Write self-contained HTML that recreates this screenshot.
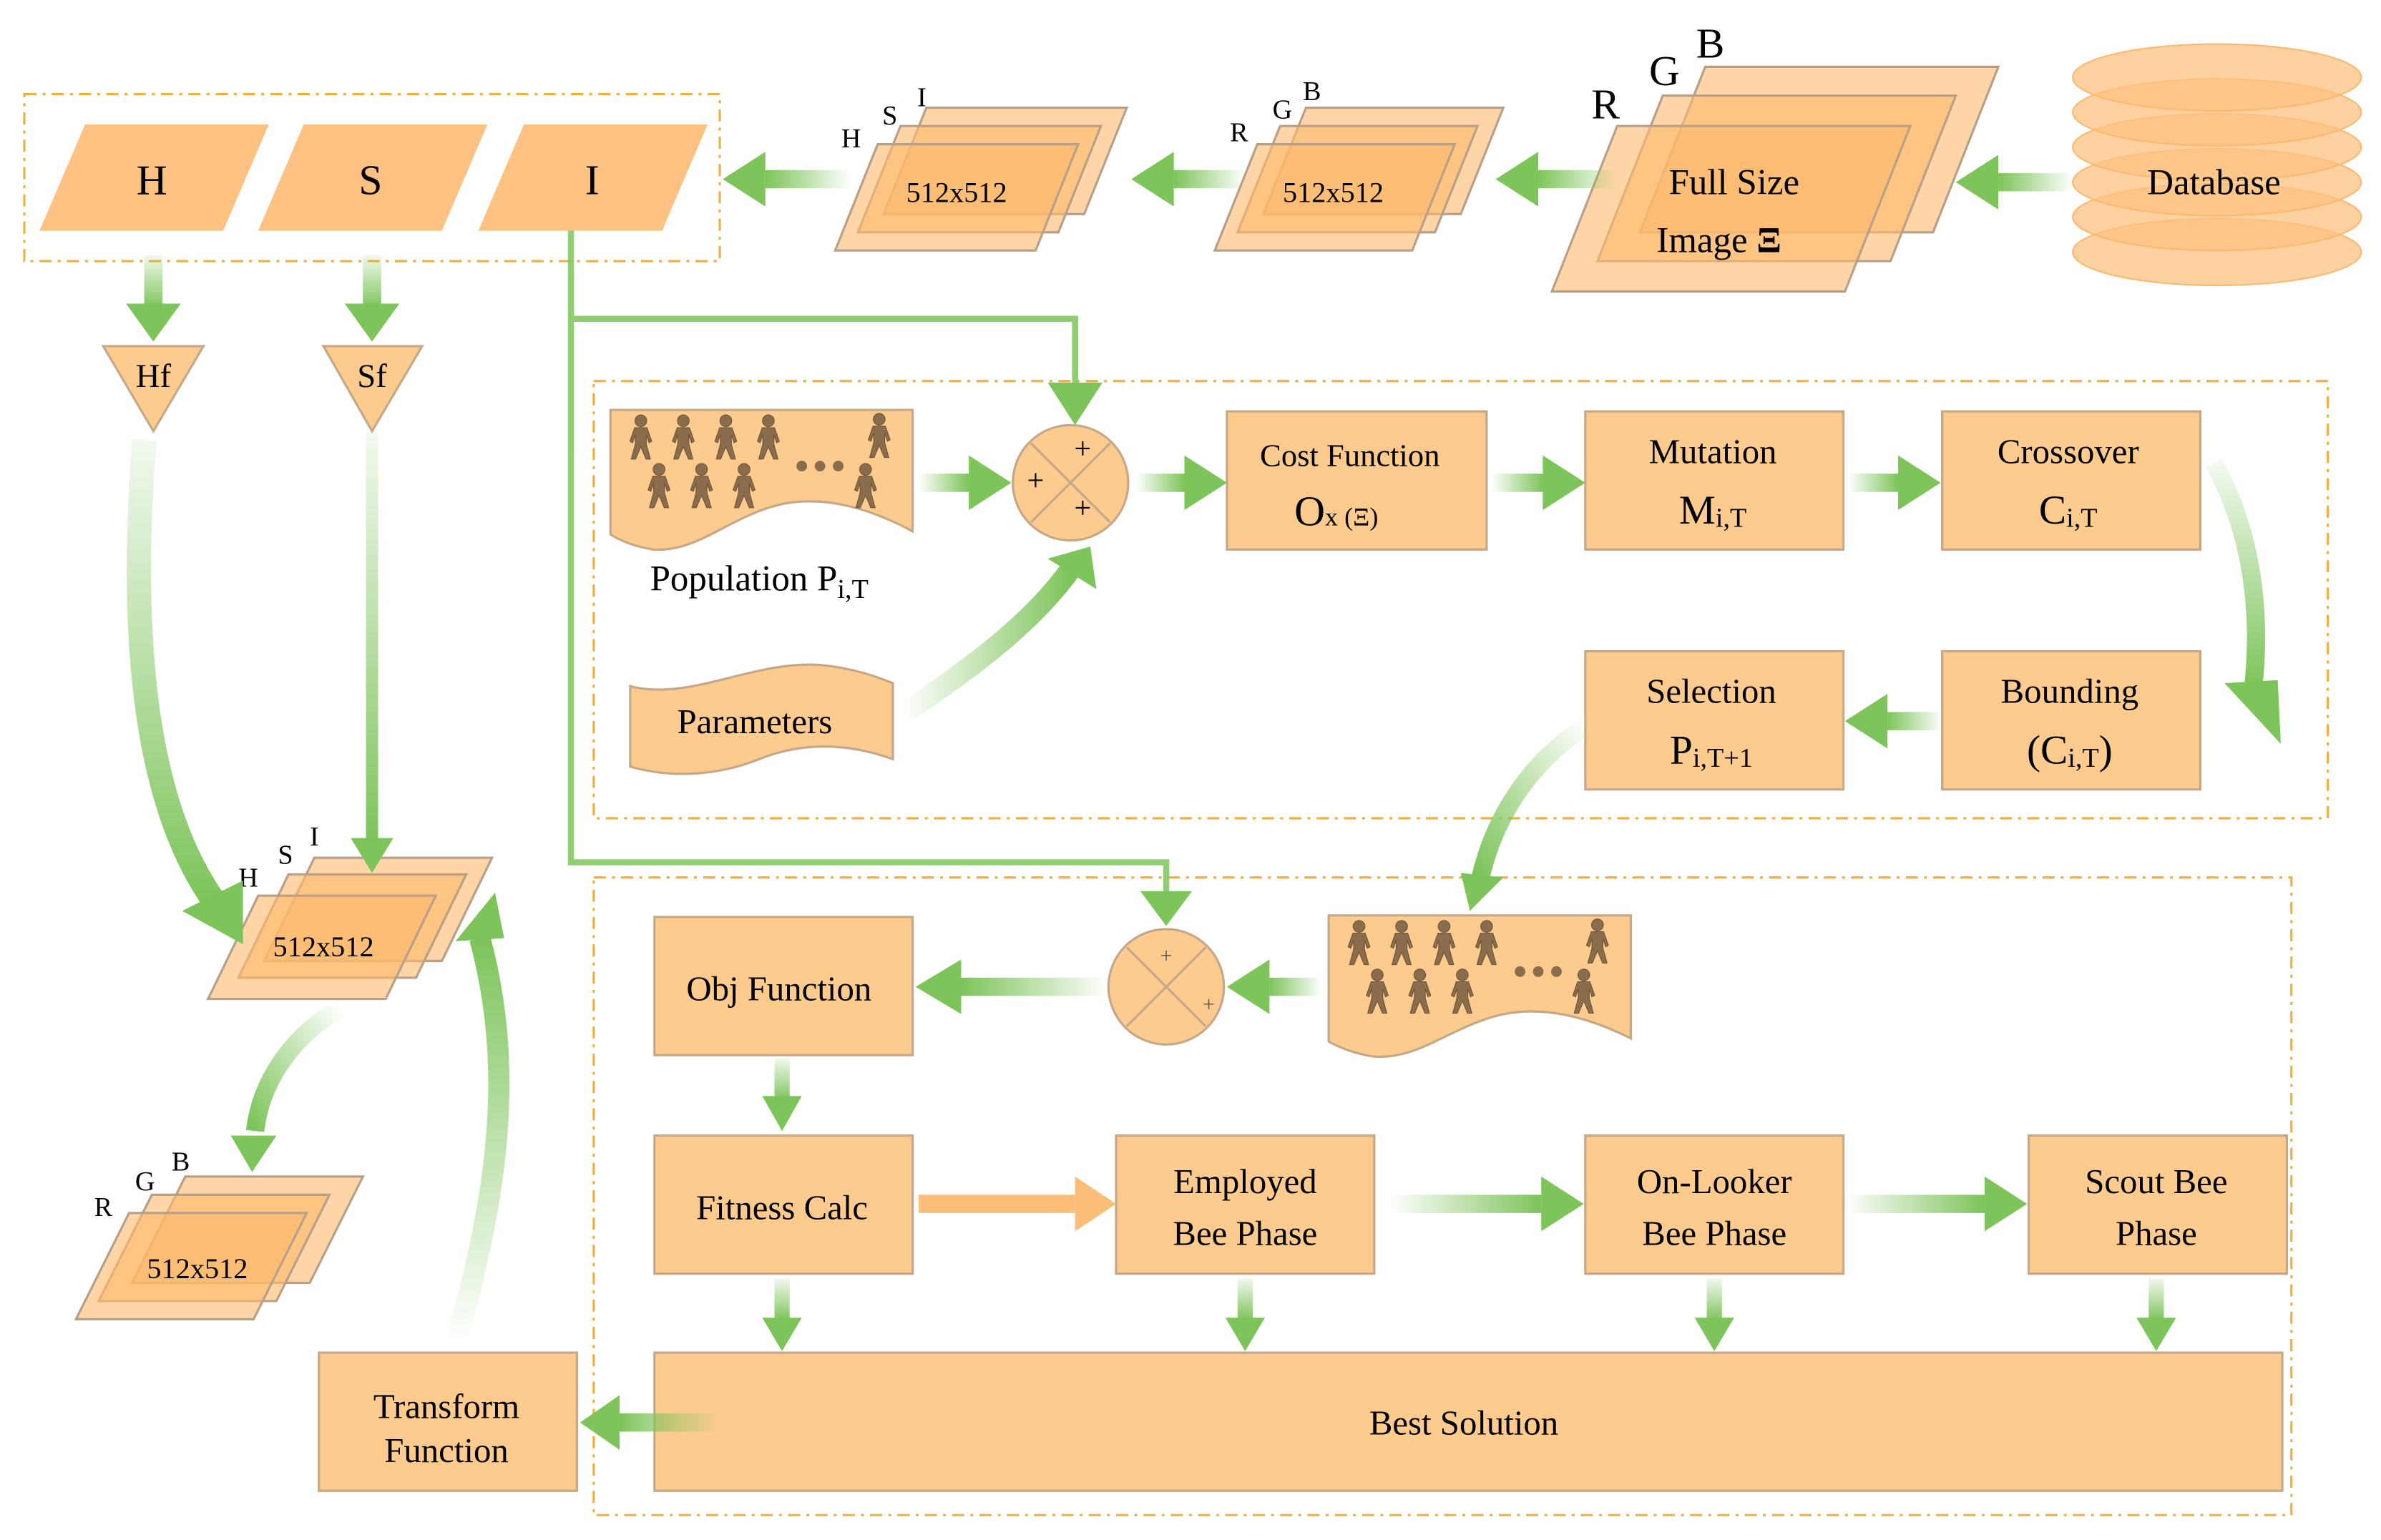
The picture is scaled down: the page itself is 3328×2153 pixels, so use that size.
<!DOCTYPE html>
<html><head><meta charset="utf-8"><style>
html,body{margin:0;padding:0;background:#fff}
svg{display:block}
text{font-family:"Liberation Serif",serif;fill:#000}
</style></head><body>
<svg width="3328" height="2153" viewBox="0 0 1568 1014.4" xmlns="http://www.w3.org/2000/svg">
<defs>
<linearGradient id="gR" x1="0" y1="0" x2="1" y2="0"><stop offset="0" stop-color="#7dc45a" stop-opacity="0"/><stop offset="1" stop-color="#7dc45a"/></linearGradient>
<linearGradient id="gL" x1="1" y1="0" x2="0" y2="0"><stop offset="0" stop-color="#7dc45a" stop-opacity="0"/><stop offset="1" stop-color="#7dc45a"/></linearGradient>
<linearGradient id="gD" x1="0" y1="0" x2="0" y2="1"><stop offset="0" stop-color="#7dc45a" stop-opacity="0.1"/><stop offset="1" stop-color="#7dc45a"/></linearGradient>
<linearGradient id="gU" x1="0" y1="1" x2="0" y2="0"><stop offset="0" stop-color="#7dc45a" stop-opacity="0"/><stop offset="1" stop-color="#7dc45a"/></linearGradient>
<linearGradient id="gPar" x1="0" y1="0" x2="1" y2="0"><stop offset="0" stop-color="#7dc45a" stop-opacity="0"/><stop offset="1" stop-color="#7dc45a"/></linearGradient>
<linearGradient id="gSel" x1="1" y1="0" x2="0" y2="1"><stop offset="0" stop-color="#7dc45a" stop-opacity="0"/><stop offset="1" stop-color="#7dc45a"/></linearGradient>
<linearGradient id="gStk" x1="1" y1="0" x2="0" y2="1"><stop offset="0" stop-color="#7dc45a" stop-opacity="0"/><stop offset="1" stop-color="#7dc45a"/></linearGradient>
<symbol id="p" viewBox="0 0 20 34"><circle cx="10" cy="5" r="4.3" fill="#8a6d4c" stroke="#6e5438" stroke-width="0.6"/><path d="M5.5,10 L14.5,10 L18,20 L16,21 L14,15 L14,22 L17,33 L13.8,33 L10,24 L6.2,33 L3,33 L6,22 L6,15 L4,21 L2,20 Z" fill="#8a6d4c" stroke="#6e5438" stroke-width="0.6"/></symbol>
</defs>
<g fill="#fdcb8e" stroke="#c4a888" stroke-width="1.5">
<rect x="16" y="62" width="458" height="110" fill="none" stroke="#f0b040" stroke-dasharray="8,4,2,4"/>
<rect x="391" y="251" width="1142" height="288" fill="none" stroke="#f0b040" stroke-dasharray="8,4,2,4"/>
<rect x="391" y="578" width="1118" height="420" fill="none" stroke="#f0b040" stroke-dasharray="8,4,2,4"/>
<polygon points="26,152 56,82 177,82 147,152" fill="#fdc181" stroke="none"/>
<polygon points="170,152 200,82 321,82 291,152" fill="#fdc181" stroke="none"/>
<polygon points="315,152 345,82 466,82 436,152" fill="#fdc181" stroke="none"/>
<polygon points="68,228 134,228 101,284"/>
<polygon points="213,228 278,228 245,284"/>
</g>
<g font-size="28" text-anchor="middle"><text x="100" y="128">H</text><text x="244" y="128">S</text><text x="390" y="128">I</text></g>
<g font-size="22" text-anchor="middle"><text x="101" y="255">Hf</text><text x="245" y="255">Sf</text></g>

<g fill="#fdb96a" fill-opacity="0.6" stroke="#b8a088" stroke-width="1.5">
<polygon points="582,141 610,71 742,71 714,141"/>
<polygon points="565,153 593,83 725,83 697,153"/>
<polygon points="550,165 578,95 710,95 682,165"/>
<polygon points="832,141 860,71 990,71 962,141"/>
<polygon points="815,153 843,83 973,83 945,153"/>
<polygon points="800,165 828,95 958,95 930,165"/>
<polygon points="1080,153 1123,44 1316,44 1273,153"/>
<polygon points="1052,172 1095,63 1288,63 1245,172"/>
<polygon points="1022,192 1065,83 1258,83 1215,192"/>
<polygon points="174,633 207,565 324,565 291,633"/>
<polygon points="157,644 190,576 307,576 274,644"/>
<polygon points="137,658 170,590 287,590 254,658"/>
<polygon points="87,845 122,775 239,775 204,845"/>
<polygon points="65,857 100,787 217,787 182,857"/>
<polygon points="50,869 85,799 202,799 167,869"/>
</g>
<g font-size="19" text-anchor="middle">
<text x="630" y="133">512x512</text><text x="878" y="133">512x512</text>
<text x="213" y="630">512x512</text><text x="130" y="842">512x512</text>
</g>
<g font-size="18"><text x="554" y="97">H</text><text x="581" y="82">S</text><text x="604" y="70">I</text>
<text x="810" y="93">R</text><text x="838" y="78">G</text><text x="858" y="66">B</text>
<text x="157" y="584">H</text><text x="183" y="569">S</text><text x="204" y="557">I</text>
<text x="62" y="801">R</text><text x="89" y="784">G</text><text x="113" y="771">B</text></g>
<g font-size="28"><text x="1048" y="78">R</text><text x="1086" y="56">G</text><text x="1117" y="38">B</text></g>
<g font-size="24" text-anchor="middle"><text x="1142" y="128">Full Size</text><text x="1132" y="166">Image <tspan font-weight="bold">Ξ</tspan></text></g>

<g fill="#fdc182" fill-opacity="0.75" stroke="#fdb870" stroke-width="1">
<ellipse cx="1460" cy="166" rx="95" ry="22"/><ellipse cx="1460" cy="143" rx="95" ry="22"/>
<ellipse cx="1460" cy="120" rx="95" ry="22"/><ellipse cx="1460" cy="97" rx="95" ry="22"/>
<ellipse cx="1460" cy="74" rx="95" ry="22"/><ellipse cx="1460" cy="51" rx="95" ry="22"/>
</g>
<text x="1458" y="128" font-size="24" text-anchor="middle">Database</text>

<g fill="#fdcb8e" stroke="#c4a888" stroke-width="1.5">
<rect x="808" y="271" width="171" height="91"/>
<rect x="1044" y="271" width="170" height="91"/>
<rect x="1279" y="271" width="170" height="91"/>
<rect x="1044" y="429" width="170" height="91"/>
<rect x="1279" y="429" width="170" height="91"/>
<rect x="431" y="604" width="170" height="91"/>
<rect x="431" y="748" width="170" height="91"/>
<rect x="735" y="748" width="170" height="91"/>
<rect x="1044" y="748" width="170" height="91"/>
<rect x="1336" y="748" width="170" height="91"/>
<rect x="431" y="891" width="1072" height="91"/>
<rect x="210" y="891" width="170" height="91"/>
<path d="M402,270 H601 V350 C575,336 545,326 515,332 C480,340 460,364 430,362 C418,360 408,356 402,352 Z"/>
<path d="M875,603 H1074 V684 C1050,672 1020,662 990,668 C955,676 935,698 905,696 C892,694 882,690 875,686 Z"/>
<path d="M415,452 C455,462 495,435 540,438 C562,440 578,446 588,450 V500 C560,490 530,488 500,500 C470,512 440,512 415,505 Z"/>
<circle cx="705" cy="318" r="38"/>
<circle cx="768" cy="650" r="38"/>
</g>
<g stroke="#c4a888" stroke-width="1.5"><line x1="679" y1="292" x2="731" y2="344"/><line x1="731" y1="292" x2="679" y2="344"/>
<line x1="742" y1="624" x2="794" y2="676"/><line x1="794" y1="624" x2="742" y2="676"/></g>
<g font-size="20" text-anchor="middle"><text x="713" y="302">+</text><text x="682" y="323">+</text><text x="713" y="341">+</text></g>
<g font-size="14" text-anchor="middle"><text x="768" y="634" style="fill:#556">+</text><text x="796" y="666" style="fill:#556">+</text></g>

<g><use href="#p" x="413" y="272" width="18" height="32"/><use href="#p" x="441" y="272" width="18" height="32"/><use href="#p" x="469" y="272" width="18" height="32"/><use href="#p" x="497" y="272" width="18" height="32"/><use href="#p" x="570" y="271" width="18" height="32"/>
<use href="#p" x="425" y="304" width="18" height="32"/><use href="#p" x="453" y="304" width="18" height="32"/><use href="#p" x="481" y="304" width="18" height="32"/><use href="#p" x="561" y="304" width="18" height="32"/>
<use href="#p" x="886" y="605" width="18" height="32"/><use href="#p" x="914" y="605" width="18" height="32"/><use href="#p" x="942" y="605" width="18" height="32"/><use href="#p" x="970" y="605" width="18" height="32"/><use href="#p" x="1043" y="604" width="18" height="32"/>
<use href="#p" x="898" y="637" width="18" height="32"/><use href="#p" x="926" y="637" width="18" height="32"/><use href="#p" x="954" y="637" width="18" height="32"/><use href="#p" x="1034" y="637" width="18" height="32"/></g>
<g fill="#8a6d4c"><circle cx="528" cy="307" r="3.5"/><circle cx="540" cy="307" r="3.5"/><circle cx="552" cy="307" r="3.5"/>
<circle cx="1001" cy="640" r="3.5"/><circle cx="1013" cy="640" r="3.5"/><circle cx="1025" cy="640" r="3.5"/></g>

<g font-size="23" text-anchor="middle">
<text x="500" y="389" font-size="24">Population P<tspan font-size="18" dy="5">i,T</tspan></text>
<text x="497" y="483">Parameters</text>
<text x="889" y="307" font-size="21">Cost Function</text>
<text x="880" y="346" font-size="28">O<tspan font-size="17">x</tspan><tspan font-size="17"> (Ξ)</tspan></text>
<text x="1128" y="305">Mutation</text><text x="1128" y="345" font-size="27">M<tspan font-size="18" dy="2">i,T</tspan></text>
<text x="1362" y="305">Crossover</text><text x="1362" y="345" font-size="27">C<tspan font-size="18" dy="2">i,T</tspan></text>
<text x="1127" y="463">Selection</text><text x="1127" y="503" font-size="27">P<tspan font-size="18" dy="2">i,T+1</tspan></text>
<text x="1363" y="463">Bounding</text><text x="1363" y="503" font-size="27">(C<tspan font-size="18" dy="2">i,T</tspan><tspan dy="-2">)</tspan></text>
<text x="513" y="659">Obj Function</text>
<text x="515" y="803">Fitness Calc</text>
<text x="820" y="786">Employed</text><text x="820" y="820">Bee Phase</text>
<text x="1129" y="786">On-Looker</text><text x="1129" y="820">Bee Phase</text>
<text x="1420" y="786">Scout Bee</text><text x="1420" y="820">Phase</text>
<text x="964" y="945">Best Solution</text>
<text x="294" y="934">Transform</text><text x="294" y="963">Function</text>
</g>

<g fill="none" stroke="#7dc45a" stroke-width="4" opacity="0.85">
<polyline points="376,152 376,568 768,568 768,590"/>
<polyline points="376,210 708,210 708,255"/>
</g>
<g fill="#7dc45a">
<polygon points="690,252 726,252 708,280"/>
<polygon points="751,587 785,587 768,610"/>
</g>

<g>
<rect x="605" y="312" width="33" height="12" fill="url(#gR)"/><polygon points="638,300 666,318 638,336" fill="#7dc45a"/>
<rect x="748" y="312" width="32" height="12" fill="url(#gR)"/><polygon points="780,300 808,318 780,336" fill="#7dc45a"/>
<rect x="982" y="312" width="34" height="12" fill="url(#gR)"/><polygon points="1016,300 1044,318 1016,336" fill="#7dc45a"/>
<rect x="1217" y="312" width="33" height="12" fill="url(#gR)"/><polygon points="1250,300 1278,318 1250,336" fill="#7dc45a"/>
<rect x="915" y="787" width="100" height="12" fill="url(#gR)"/><polygon points="1015,775 1043,793 1015,811" fill="#7dc45a"/>
<rect x="1215" y="787" width="92" height="12" fill="url(#gR)"/><polygon points="1307,775 1335,793 1307,811" fill="#7dc45a"/>
<rect x="605" y="787" width="103" height="12" fill="#fbbd78"/><polygon points="708,775 735,793 708,811" fill="#fbbd78"/>
<rect x="504" y="112" width="56" height="12" fill="url(#gL)"/><polygon points="504,100 476,118 504,136" fill="#7dc45a"/>
<rect x="773" y="112" width="47" height="12" fill="url(#gL)"/><polygon points="773,100 745,118 773,136" fill="#7dc45a"/>
<rect x="1013" y="112" width="52" height="12" fill="url(#gL)"/><polygon points="1013,100 985,118 1013,136" fill="#7dc45a"/>
<rect x="1316" y="114" width="49" height="12" fill="url(#gL)"/><polygon points="1316,102 1288,120 1316,138" fill="#7dc45a"/>
<rect x="1243" y="469" width="36" height="12" fill="url(#gL)"/><polygon points="1243,457 1215,475 1243,493" fill="#7dc45a"/>
<rect x="836" y="644" width="34" height="12" fill="url(#gL)"/><polygon points="836,632 808,650 836,668" fill="#7dc45a"/>
<rect x="633" y="644" width="97" height="12" fill="url(#gL)"/><polygon points="633,632 603,650 633,668" fill="#7dc45a"/>
<rect x="408" y="931" width="67" height="12" fill="url(#gL)"/><polygon points="408,919 382,937 408,955" fill="#7dc45a"/>
<rect x="95" y="168" width="12" height="35" fill="url(#gD)"/><polygon points="83,200 119,200 101,225" fill="#7dc45a"/>
<rect x="239" y="168" width="12" height="35" fill="url(#gD)"/><polygon points="227,200 263,200 245,225" fill="#7dc45a"/>
<rect x="241" y="285" width="8" height="270" fill="url(#gD)"/><polygon points="231,552 259,552 245,575" fill="#7dc45a"/>
<rect x="510" y="697" width="10" height="28" fill="url(#gD)"/><polygon points="502,722 528,722 515,745" fill="#7dc45a"/>
<rect x="510" y="842" width="10" height="28" fill="url(#gD)"/><polygon points="502,868 528,868 515,890" fill="#7dc45a"/>
<rect x="815" y="842" width="10" height="28" fill="url(#gD)"/><polygon points="807,868 833,868 820,890" fill="#7dc45a"/>
<rect x="1124" y="842" width="10" height="28" fill="url(#gD)"/><polygon points="1116,868 1142,868 1129,890" fill="#7dc45a"/>
<rect x="1415" y="842" width="10" height="28" fill="url(#gD)"/><polygon points="1407,868 1433,868 1420,890" fill="#7dc45a"/>
</g>

<g fill="none" stroke-linecap="butt">
<path d="M95,290 C85,420 95,530 142,595" stroke="url(#gD)" stroke-width="16"/>
<path d="M595,470 C640,440 680,410 705,375" stroke="url(#gPar)" stroke-width="14"/>
<path d="M1458,305 C1480,345 1490,395 1484,452" stroke="url(#gD)" stroke-width="12"/>
<path d="M1045,478 C1010,500 985,535 975,578" stroke="url(#gSel)" stroke-width="12"/>
<path d="M225,664 C195,680 172,710 168,745" stroke="url(#gStk)" stroke-width="12"/>
<path d="M300,885 C330,780 338,700 316,618" stroke="url(#gU)" stroke-width="14"/>
</g>
<g fill="#7dc45a">
<polygon points="120,600 160,580 160,622"/>
<polygon points="690,368 718,360 722,388"/>
<polygon points="1465,450 1500,448 1502,490"/>
<polygon points="962,575 990,578 968,600"/>
<polygon points="152,748 182,748 166,772"/>
<polygon points="300,620 326,588 332,618"/>
</g>
</svg>
</body></html>
